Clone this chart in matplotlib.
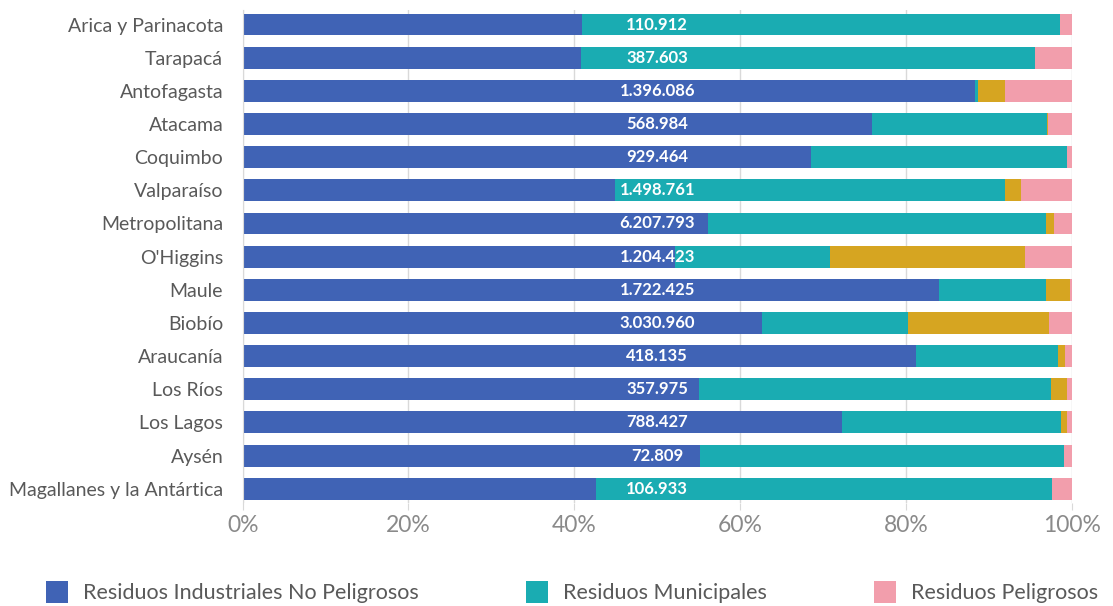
import numpy as np
import matplotlib.pyplot as plt
from matplotlib.ticker import PercentFormatter

regiones = ['Arica y Parinacota', 'Tarapacá', 'Antofagasta', 'Atacama', 'Coquimbo',
            'Valparaíso', 'Metropolitana', "O'Higgins", 'Maule', 'Biobío',
            'Araucanía', 'Los Ríos', 'Los Lagos', 'Aysén', 'Magallanes y la Antártica']

# total generado por region (toneladas)
totales = ['110.912', '387.603', '1.396.086', '568.984', '929.464',
           '1.498.761', '6.207.793', '1.204.423', '1.722.425', '3.030.960',
           '418.135', '357.975', '788.427', '72.809', '106.933']

# participacion (%) de cada tipo de residuo
industriales = [40.9, 40.8, 88.3, 75.9, 68.5, 44.9, 56.1, 52.2, 84.0, 62.6, 81.2, 55.0, 72.3, 55.1, 42.6]
municipales = [57.7, 54.7, 0.4, 21.1, 30.9, 47.1, 40.8, 18.6, 12.9, 17.7, 17.1, 42.5, 26.4, 43.9, 55.0]
otros = [0.0, 0.0, 3.3, 0.1, 0.0, 1.9, 1.0, 23.6, 2.9, 16.9, 0.9, 1.9, 0.7, 0.0, 0.0]
peligrosos = [1.4, 4.5, 8.0, 2.9, 0.6, 6.1, 2.1, 5.6, 0.2, 2.8, 0.8, 0.6, 0.6, 1.0, 2.4]

series = [
    (industriales, '#4063B5', 'Residuos Industriales No Peligrosos'),
    (municipales, '#1AACB2', 'Residuos Municipales'),
    (otros, '#D6A521', None),
    (peligrosos, '#F29EAC', 'Residuos Peligrosos'),
]

plt.rcParams['font.family'] = ['Lato', 'DejaVu Sans']

fig = plt.figure(figsize=(11.13, 6.06), dpi=100)
ax = fig.add_axes([0.218, 0.170, 0.745, 0.813])

y = np.arange(len(regiones))
left = np.zeros(len(regiones))
for valores, color, nombre in series:
    valores = np.array(valores)
    ax.barh(y, valores, left=left, height=0.66, color=color,
            label=nombre if nombre else '_nolegend_', zorder=2)
    left += valores

for i, total in enumerate(totales):
    ax.text(50, y[i], total, ha='center', va='center', color='white',
            fontsize=12, fontweight='bold', zorder=3)

ax.set_xlim(0, 100)
ax.set_ylim(len(regiones) - 0.57, -0.43)
ax.set_yticks(y)
ax.set_yticklabels(regiones, fontsize=14, color='#595959')
ax.set_xticks(np.arange(0, 101, 20))
ax.xaxis.set_major_formatter(PercentFormatter(decimals=0))
ax.tick_params(axis='x', labelsize=16.5, labelcolor='#8A8A8A', color='#D9D9D9',
               length=5, pad=4)
ax.tick_params(axis='y', length=0, pad=14)

ax.grid(axis='x', color='#D9D9D9', linewidth=1, zorder=0)
for side in ['top', 'right', 'bottom']:
    ax.spines[side].set_visible(False)
ax.spines['left'].set_color('#D9D9D9')

handles, labels = ax.get_legend_handles_labels()
fig.legend(handles, labels, loc='center', bbox_to_anchor=(0.514, 0.023), ncol=3,
           frameon=False, fontsize=15.5, labelcolor='#595959', handlelength=1.0,
           handleheight=1.25, handletextpad=0.7, columnspacing=5.0)

fig.savefig('out.png', dpi=100)
